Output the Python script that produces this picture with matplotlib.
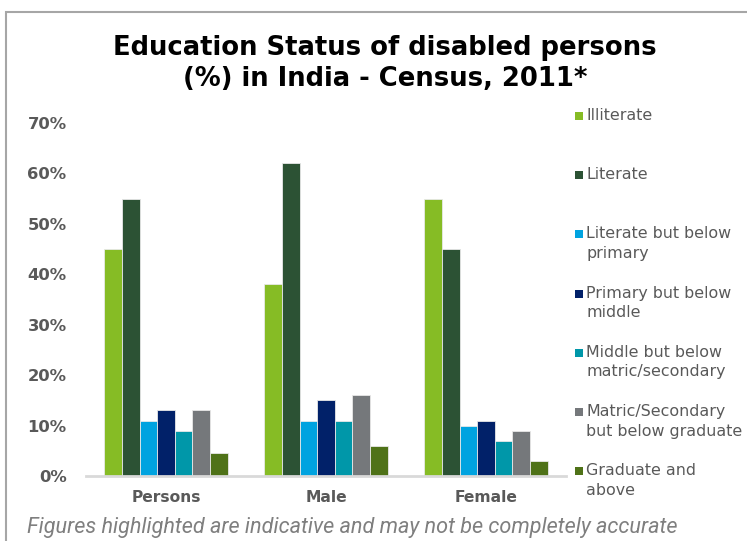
import matplotlib
matplotlib.use("Agg")
import matplotlib.pyplot as plt
import numpy as np
from matplotlib.patches import Rectangle

plt.rcParams["font.family"] = ["DejaVu Sans"]

categories = ["Persons", "Male", "Female"]
series_names = [
    "Illiterate",
    "Literate",
    "Literate but below\nprimary",
    "Primary but below\nmiddle",
    "Middle but below\nmatric/secondary",
    "Matric/Secondary\nbut below graduate",
    "Graduate and\nabove",
]
illiterate = [45, 38, 55]
literate = [55, 62, 45]
lit_below_primary = [11, 11, 10]
primary_below_middle = [13, 15, 11]
middle_below_matric = [9, 11, 7]
matric_below_graduate = [13, 16, 9]
graduate_above = [4.5, 6, 3]
series_values = [illiterate, literate, lit_below_primary, primary_below_middle,
                 middle_below_matric, matric_below_graduate, graduate_above]
colors = ["#86BC25", "#2C5234", "#00A3E0", "#012169", "#0097A9", "#75787B", "#4F7218"]
yticks = [0, 10, 20, 30, 40, 50, 60, 70]

W, H = 747, 541
fig = plt.figure(figsize=(W / 100, H / 100), dpi=100)
fig.patch.set_facecolor("white")

ax = fig.add_axes([86 / W, 1 - 476 / H, 480 / W, (476 - 123) / H])
x = np.arange(len(categories))
bw = 0.11
n = len(series_values)
for i, (vals, c) in enumerate(zip(series_values, colors)):
    ax.bar(x + (i - (n - 1) / 2) * bw, vals, width=bw, color=c,
           edgecolor="#E8E8E8", linewidth=0.6, zorder=2)

ax.set_xlim(-0.5, len(categories) - 0.5)
ax.set_ylim(0, 70)
ax.set_yticks(yticks)
ax.set_yticklabels([f"{v}%" for v in yticks], fontsize=11.8, fontweight="bold", color="#595959")
ax.set_xticks(x)
ax.set_xticklabels(categories, fontsize=11.2, fontweight="bold", color="#595959")
ax.tick_params(axis="both", length=0)
ax.tick_params(axis="y", pad=14)
ax.tick_params(axis="x", pad=10)
for s in ["top", "right", "left"]:
    ax.spines[s].set_visible(False)
ax.spines["bottom"].set_color("#D9D9D9")
ax.spines["bottom"].set_linewidth(2)
ax.spines["bottom"].set_zorder(3)

# Title
fig.text(385 / W, 1 - 64 / H, "Education Status of disabled persons\n(%) in India - Census, 2011*",
         ha="center", va="center", fontsize=18.6, fontweight="bold", color="black",
         linespacing=1.25)

# Legend (manual)
leg_top = 116
step = 59.2
for i, (name, c) in enumerate(zip(series_names, colors)):
    yc = leg_top + i * step
    fig.patches.append(Rectangle((575 / W, 1 - (yc + 4) / H), 8 / W, 8 / H,
                                 transform=fig.transFigure, facecolor=c, edgecolor="none"))
    fig.text(586 / W, 1 - (yc - 8) / H, name, ha="left", va="top", fontsize=11.4,
             color="#595959", linespacing=1.38)

# Footnote
fig.text(27 / W, 1 - 528 / H, "Figures highlighted are indicative and may not be completely accurate",
         ha="left", va="center", fontsize=15.6, style="italic", color="#7F7F7F",
         family="Roboto")

# Frame
fig.patches.append(Rectangle((6 / W, -0.1), 1.2, 1 - 12 / H + 0.1, transform=fig.transFigure,
                             facecolor="none", edgecolor="#A6A6A6", linewidth=1.5))

fig.savefig("out.png", dpi=100)
